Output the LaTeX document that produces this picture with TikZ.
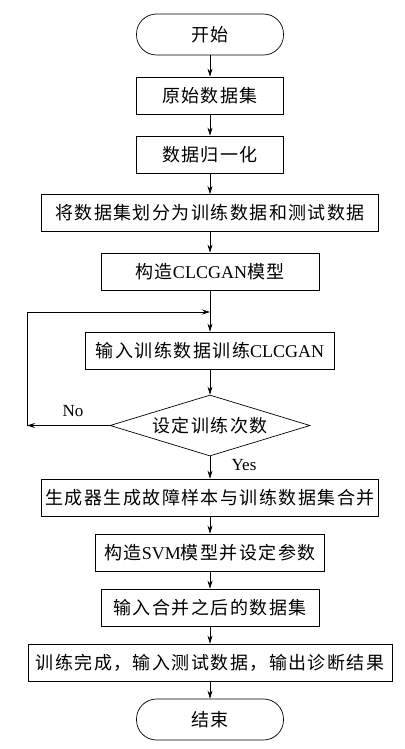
\documentclass[tikz,border=0pt]{standalone}
\usepackage{fontspec}
\setmainfont{Liberation Serif}
\newfontfamily\cjk[LetterSpace=8]{Noto Sans CJK SC}
\usepackage{tikz}
\usetikzlibrary{shapes.geometric,arrows.meta,positioning}
\newcommand{\en}[1]{{\rmfamily #1}}

\begin{document}
\begin{tikzpicture}[x=1pt, y=-1pt, font=\cjk\fontsize{18}{20}\selectfont, line width=0.7pt,
  >={Stealth[length=8pt,width=5pt]},
  box/.style={draw, minimum height=37pt, inner sep=0pt},
  term/.style={draw, rounded corners=20pt, minimum width=147pt, minimum height=41pt}]
\useasboundingbox (0,0) rectangle (404,749);
\node[term] (start) at (210,34.5) {开始};
\node[box, minimum width=147pt] (raw) at (210,95.5) {原始数据集};
\node[box, minimum width=147pt] (norm) at (210,154.5) {数据归一化};
\node[box, minimum width=337pt] (split) at (210,213) {将数据集划分为训练数据和测试数据};
\node[box, minimum width=218pt] (gan) at (210,271.5) {构造\en{CLCGAN}模型};
\node[box, minimum width=249pt] (train) at (210,350.5) {输入训练数据训练\en{CLCGAN}};
\node[draw, diamond, aspect=3.3, minimum width=200pt, minimum height=61pt, inner sep=0pt] (epoch) at (210,425.5) {设定训练次数};
\node[box, minimum width=337pt] (merge) at (210,497.5) {生成器生成故障样本与训练数据集合并};
\node[box, minimum width=229pt] (svm) at (210,552.5) {构造\en{SVM}模型并设定参数};
\node[box, minimum width=218pt] (input) at (210,607.5) {输入合并之后的数据集};
\node[box, minimum width=364pt] (result) at (210,662.5) {训练完成，输入测试数据，输出诊断结果};
\node[term] (stop) at (210,719.5) {结束};
\coordinate (nocorner) at (27,425.5);
\coordinate (topcorner) at (27,312);
\coordinate (join) at (210,312);
\draw[->] (start) -- (raw);
\draw[->] (raw) -- (norm);
\draw[->] (norm) -- (split);
\draw[->] (split) -- (gan);
\draw[->] (gan) -- (train);
\draw[->] (train) -- (epoch);
\draw[->] (epoch) -- (merge);
\draw[->] (merge) -- (svm);
\draw[->] (svm) -- (input);
\draw[->] (input) -- (result);
\draw[->] (result) -- (stop);
\draw[->] (epoch.west) -- (nocorner);
\draw[->] (nocorner) -- (topcorner) -- (join);
\node[font=\fontsize{17}{19}\selectfont] (no) at (73,411) {\en{No}};
\node[font=\fontsize{17}{19}\selectfont] (yes) at (244,465) {\en{Yes}};
\end{tikzpicture}
\end{document}
